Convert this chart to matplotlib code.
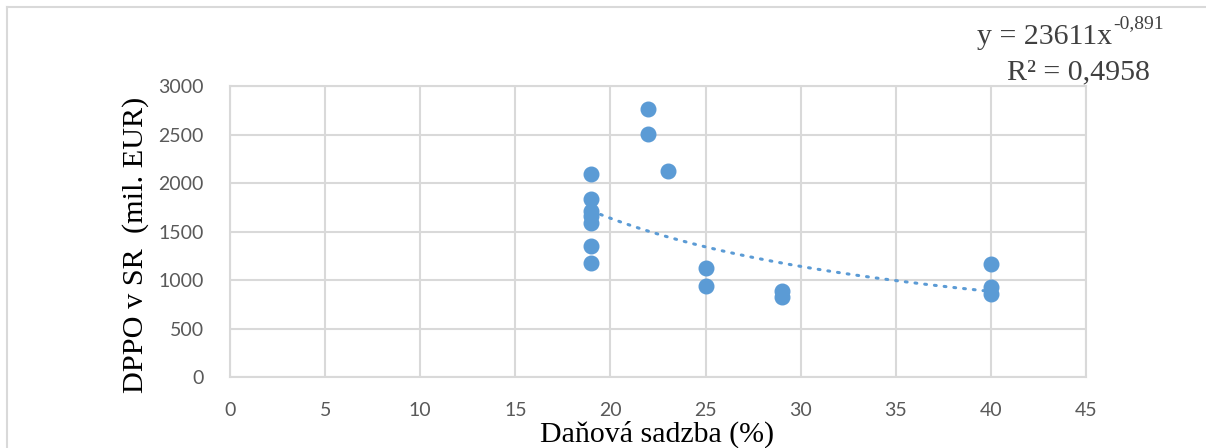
import numpy as np
import matplotlib
matplotlib.use("Agg")
import matplotlib.pyplot as plt
from matplotlib.lines import Line2D

# Data: tax rate (%) vs DPPO in SR (mil. EUR)
tax_rate = [19, 19, 19, 19, 19, 19, 19, 22, 22, 23, 25, 25, 29, 29, 40, 40, 40]
dppo = [2090, 1840, 1710, 1660, 1585, 1350, 1175, 2765, 2505, 2120, 1120, 935, 885, 820, 1170, 930, 855]

# Trendline (power) coefficients as shown in the label
trend_a = 23611
trend_b = -0.891
eq_main = "y = 23611x"
eq_exp = "-0,891"
r2_label = "R² = 0,4958"

xticks = [0, 5, 10, 15, 20, 25, 30, 35, 40, 45]
yticks = [0, 500, 1000, 1500, 2000, 2500, 3000]

W, H = 1206, 448
fig = plt.figure(figsize=(W / 100, H / 100), dpi=100)

# outer chart border (cropped at right/bottom)
grid_col = "#d9d9d9"
fig.add_artist(Line2D([7 / W, 1.0], [1 - 7 / H, 1 - 7 / H], color=grid_col, lw=1.5, transform=fig.transFigure))
fig.add_artist(Line2D([7 / W, 7 / W], [0, 1 - 7 / H], color=grid_col, lw=1.5, transform=fig.transFigure))

ax = fig.add_axes([230 / W, 1 - 377 / H, (1086 - 230) / W, (377 - 86) / H])
ax.set_xlim(0, 45)
ax.set_ylim(0, 3000)
ax.set_xticks(xticks)
ax.set_yticks(yticks)
ax.grid(True, color=grid_col, lw=1.5, zorder=0)
for s in ax.spines.values():
    s.set_color(grid_col)
    s.set_linewidth(1.5)
ax.tick_params(length=0, labelsize=14, labelcolor="#595959")
ax.tick_params(axis="y", pad=19)
ax.tick_params(axis="x", pad=18)
for lab in ax.get_xticklabels() + ax.get_yticklabels():
    lab.set_family("Lato")

blue = "#5b9bd5"
ax.plot(tax_rate, dppo, "o", color=blue, ms=10.5, mec=blue, zorder=3, clip_on=False)

xt = np.linspace(min(tax_rate), max(tax_rate), 200)
ax.plot(xt, trend_a * xt ** trend_b, color=blue, lw=2.2, linestyle=(0, (0.6, 2.6)),
        dash_capstyle="round", zorder=2)

fig.text(136 / W, 1 - 245 / H, "DPPO v SR  (mil. EUR)", family="Liberation Serif", fontsize=21.8,
         color="black", ha="center", va="center", rotation=90)
fig.text(657 / W, 0.5 / H, "Daňová sadzba (%)", family="Liberation Serif", fontsize=21.5,
         color="black", ha="center", va="bottom")

eq_col = "#404040"
t_main = fig.text(977 / W, 1 - 44 / H, eq_main, family="Liberation Serif",
                  fontsize=21.5, color=eq_col, ha="left", va="baseline")
fig.canvas.draw()
bb = t_main.get_window_extent()
fig.text(bb.x1 / W + 1 / W, 1 - 28 / H, eq_exp, family="Liberation Serif",
         fontsize=14, color=eq_col, ha="left", va="baseline")
fig.text(1078 / W, 1 - 79 / H, r2_label, family="Liberation Serif",
         fontsize=21.5, color=eq_col, ha="center", va="baseline")

fig.savefig("out.png", dpi=100)
